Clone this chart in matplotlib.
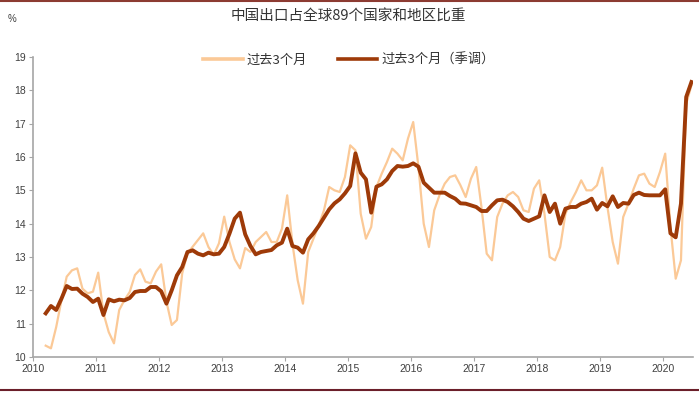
import matplotlib
matplotlib.use("Agg")
import matplotlib.pyplot as plt
from matplotlib.lines import Line2D
import numpy as np

plt.rcParams['font.family'] = ['Noto Sans CJK SC', 'DejaVu Sans']

# monthly data, 2010-03 .. 2020-06
start_year, start_month = 2010, 3
raw_3m = [
    10.34, 10.26, 10.9, 11.7, 12.41, 12.6, 12.66, 12.05, 11.91, 11.96,
    12.53, 11.31, 10.75, 10.41, 11.41, 11.71, 11.95, 12.46, 12.63, 12.26,
    12.21, 12.56, 12.78, 11.66, 10.96, 11.11, 12.51, 13.11, 13.31, 13.51,
    13.71, 13.3, 13.06, 13.41, 14.21, 13.45, 12.93, 12.66, 13.27, 13.15,
    13.45, 13.6, 13.75, 13.45, 13.45, 13.85, 14.85, 13.4, 12.3, 11.6,
    13.15, 13.55, 13.95, 14.4, 15.1, 15.0, 14.95, 15.4, 16.35, 16.2,
    14.3, 13.55, 13.9, 15.1, 15.5, 15.85, 16.25, 16.1, 15.9, 16.55,
    17.05, 15.7, 14.0, 13.3, 14.4, 14.85, 15.2, 15.4, 15.45, 15.15,
    14.8, 15.35, 15.7, 14.5, 13.1, 12.9, 14.2, 14.6, 14.85, 14.95,
    14.8, 14.4, 14.35, 15.05, 15.3, 14.3, 13.0, 12.9, 13.3, 14.3,
    14.65, 14.95, 15.3, 15.0, 15.0, 15.15, 15.68, 14.5, 13.45, 12.8,
    14.2, 14.6, 15.05, 15.45, 15.5, 15.2, 15.1, 15.55, 16.1, 13.9,
    12.35, 12.9, 17.6, 18.15,
]
sa_3m = [
    11.31, 11.53, 11.41, 11.75, 12.13, 12.04, 12.05, 11.9, 11.8, 11.65,
    11.75, 11.26, 11.73, 11.67, 11.72, 11.7, 11.77, 11.95, 11.98, 11.98,
    12.1, 12.1, 11.97, 11.6, 12.0, 12.45, 12.7, 13.15, 13.2, 13.1,
    13.05, 13.13, 13.08, 13.1, 13.3, 13.7, 14.15, 14.33, 13.68, 13.33,
    13.08, 13.15, 13.18, 13.21, 13.35, 13.43, 13.85, 13.33, 13.28, 13.13,
    13.53, 13.71, 13.93, 14.18, 14.43, 14.61, 14.73, 14.91, 15.13, 16.11,
    15.53, 15.33, 14.33, 15.11, 15.18, 15.33, 15.58, 15.73, 15.71, 15.73,
    15.81, 15.71, 15.23, 15.08, 14.93, 14.93, 14.93, 14.83, 14.75, 14.61,
    14.6, 14.55, 14.5, 14.38, 14.38, 14.55, 14.7, 14.72, 14.65, 14.52,
    14.35, 14.15, 14.08, 14.15, 14.22, 14.85, 14.35, 14.6, 14.0, 14.45,
    14.5, 14.5, 14.6, 14.65, 14.75, 14.42, 14.62, 14.52, 14.82, 14.5,
    14.62, 14.6, 14.86, 14.93, 14.86, 14.85, 14.85, 14.85, 15.03, 13.71,
    13.59, 14.6, 17.8, 18.25,
]
years = list(range(2010, 2021))
yticks = list(range(10, 20))

n = len(raw_3m)
x = start_year + (np.arange(n) + start_month - 1 + 0.42) / 12

light = '#fbc997'
dark = '#9e3a08'
axis_grey = '#a6a6a6'
text_grey = '#404040'

fig = plt.figure(figsize=(6.99, 3.93), dpi=100)
ax = fig.add_axes([33 / 699, 36 / 393, 660 / 699, 300 / 393])

ax.plot(x, raw_3m, color=light, lw=1.6, label='过去3个月')
ax.plot(x, sa_3m, color=dark, lw=2.8, label='过去3个月（季调）')

ax.set_xlim(2010, 2010 + 660 / 63)
ax.set_ylim(10, 19)
ax.set_xticks(years)
ax.set_xticklabels([str(y) for y in years], fontsize=7.5, color=text_grey,
                   family=['Liberation Sans', 'DejaVu Sans'])
ax.set_yticks(yticks)
ax.set_yticklabels([str(y) for y in yticks], fontsize=7.5, color=text_grey,
                   family=['Liberation Sans', 'DejaVu Sans'])
ax.tick_params(axis='both', length=3, width=0.8, color=axis_grey, pad=2)

for side in ['top', 'right']:
    ax.spines[side].set_visible(False)
for side in ['left', 'bottom']:
    ax.spines[side].set_color(axis_grey)
    ax.spines[side].set_linewidth(1.2)

fig.text(348 / 699, 1 - 17 / 393, '中国出口占全球89个国家和地区比重',
         ha='center', va='center', fontsize=10.5, color='#333333')
fig.text(8 / 699, 1 - 19 / 393, '%', ha='left', va='center', fontsize=7,
         color=text_grey, family=['Liberation Sans', 'DejaVu Sans'])

leg = fig.legend(loc='center', bbox_to_anchor=(349 / 699, 1 - 60 / 393), ncol=2,
                 frameon=False, fontsize=9.5, handlelength=3.0, columnspacing=2.3,
                 handletextpad=0.3)
for t in leg.get_texts():
    t.set_color('#333333')
for h in leg.get_lines():
    h.set_linewidth(2.6)

# frame lines at top and bottom of the picture
fig.add_artist(Line2D([0, 1], [1 - 1 / 393, 1 - 1 / 393], color='#8c3b32', lw=1.5))
fig.add_artist(Line2D([0, 1], [3 / 393, 3 / 393], color='#6b1f2a', lw=1.5))

fig.savefig('out.png', dpi=100)
